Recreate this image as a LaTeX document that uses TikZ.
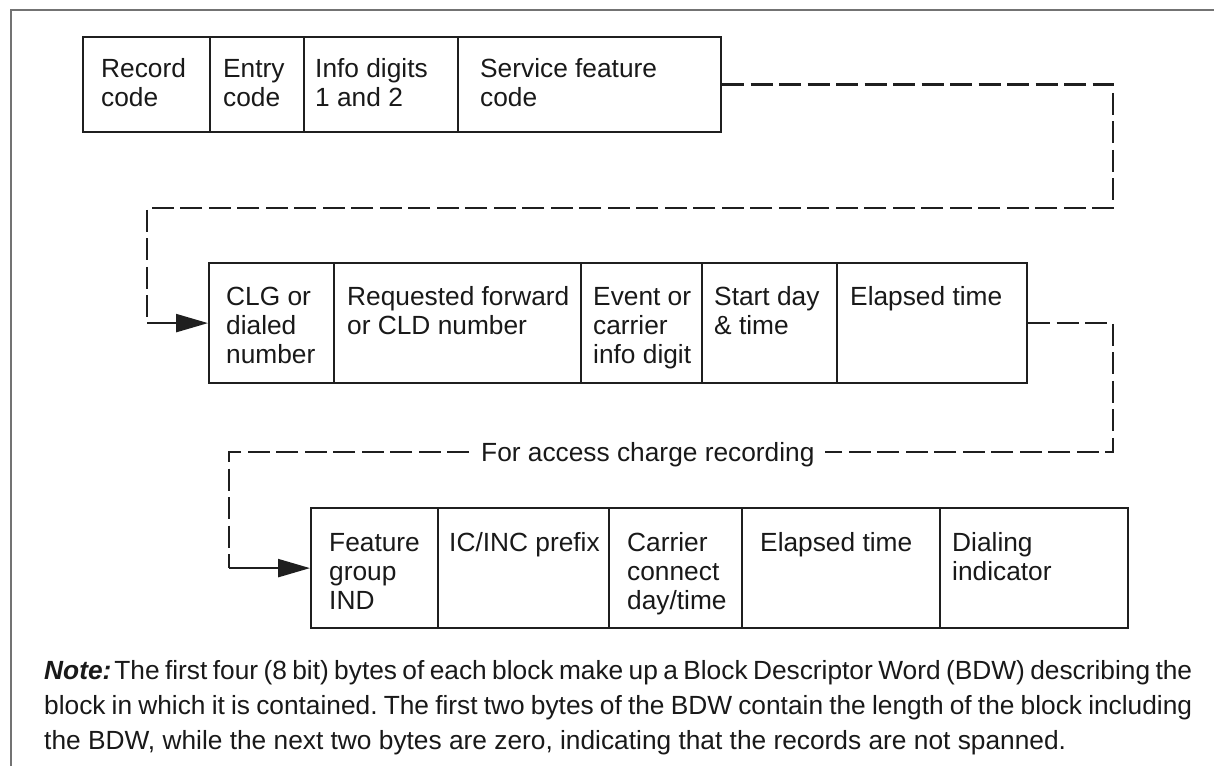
\documentclass[tikz,border=0pt]{standalone}
\usepackage{fontspec}
\setmainfont{Liberation Sans}
\usetikzlibrary{arrows.meta}
\newcommand{\celltext}[1]{\begin{tabular}[t]{@{}l@{}}#1\end{tabular}}
\frenchspacing
\begin{document}
\begin{tikzpicture}[x=1pt,y=-1pt,
  cell/.style={draw=black!88, line width=2.2pt, anchor=north west, inner sep=0pt},
  rowa/.style={cell, minimum height=95pt},
  rowb/.style={cell, minimum height=120pt},
  label/.style={anchor=base west, inner sep=0pt, font=\fontsize{26.3}{29}\selectfont, text=black!90},
  dashline/.style={draw=black!88, line width=2.4pt, dash pattern=on 22pt off 6.5pt},
  arrowline/.style={draw=black!88, line width=2.4pt, -{Triangle[length=32pt,width=18pt]}},
  frame/.style={draw=black!55, line width=1.6pt}
]
\useasboundingbox (0,0) rectangle (1214,766);
\fill[white] (0,0) rectangle (1214,766);
\draw[frame] (11,766) -- (11,10) -- (1214,10);

% row 1
\node[rowa, minimum width=127pt] (a1) at (82,36) {};
\node[rowa, minimum width=94pt]  (a2) at (209,36) {};
\node[rowa, minimum width=154pt] (a3) at (303,36) {};
\node[rowa, minimum width=263pt] (a4) at (457,36) {};
\node[label] (ta1) at (101,77) {\celltext{Record\\code}};
\node[label] (ta2) at (223,77) {\celltext{Entry\\code}};
\node[label] (ta3) at (315,77) {\celltext{Info digits\\1 and 2}};
\node[label] (ta4) at (480,77) {\celltext{Service feature\\code}};

% row 2
\node[rowb, minimum width=125pt] (b1) at (208,262) {};
\node[rowb, minimum width=247pt] (b2) at (333,262) {};
\node[rowb, minimum width=121pt] (b3) at (580,262) {};
\node[rowb, minimum width=135pt] (b4) at (701,262) {};
\node[rowb, minimum width=190pt] (b5) at (836,262) {};
\node[label] (tb1) at (226,305) {\celltext{CLG or\\dialed\\number}};
\node[label] (tb2) at (347,305) {\celltext{Requested forward\\or CLD number}};
\node[label] (tb3) at (593,305) {\celltext{Event or\\carrier\\info digit}};
\node[label] (tb4) at (714,305) {\celltext{Start day\\\& time}};
\node[label] (tb5) at (850,305) {\celltext{Elapsed time}};

% row 3
\node[rowb, minimum width=127pt] (c1) at (310,507) {};
\node[rowb, minimum width=171pt] (c2) at (437,507) {};
\node[rowb, minimum width=133pt] (c3) at (608,507) {};
\node[rowb, minimum width=198pt] (c4) at (741,507) {};
\node[rowb, minimum width=188pt] (c5) at (939,507) {};
\node[label] (tc1) at (329,551) {\celltext{Feature\\group\\IND}};
\node[label] (tc2) at (449,551) {\celltext{IC/INC prefix}};
\node[label] (tc3) at (627,551) {\celltext{Carrier\\connect\\day/time}};
\node[label] (tc4) at (760,551) {\celltext{Elapsed time}};
\node[label] (tc5) at (952,551) {\celltext{Dialing\\indicator}};

% connector 1
\coordinate (k1) at (1113,208);
\coordinate (k2) at (147,208);
\coordinate (k3) at (k2 |- b1.west);
\draw[dashline] (a4.east) -| (k1) -- (k2) -- (k3);
\draw[arrowline] (k3) -- (b1.west);

% connector 2
\node[label] (acr) at (481,461) {For access charge recording};
\coordinate (k4) at (1113,452);
\coordinate (k5) at (229,452);
\coordinate (k6) at (k5 |- c1.west);
\draw[dashline] (b5.east) -| (k4) -- ([xshift=10pt]acr.east |- k4);
\draw[dashline] ([xshift=-12pt]acr.west |- k5) -- (k5) -- (k6);
\draw[arrowline] (k6) -- (c1.west);

% note
\node[anchor=base west, inner sep=0pt, font=\fontsize{26.3}{35}\selectfont, text=black!90] (note) at (44,679)
 {\begin{tabular}[t]{@{}p{1148pt}@{}}\textbf{\textit{Note:}}\hspace{3pt}The first four (8 bit) bytes of each block make up a Block Descriptor Word (BDW) describing the\linebreak block in which it is contained. The first two bytes of the BDW contain the length of the block including\linebreak the BDW, while the next two bytes are zero, indicating that the records are not spanned.\end{tabular}};
\end{tikzpicture}
\end{document}
